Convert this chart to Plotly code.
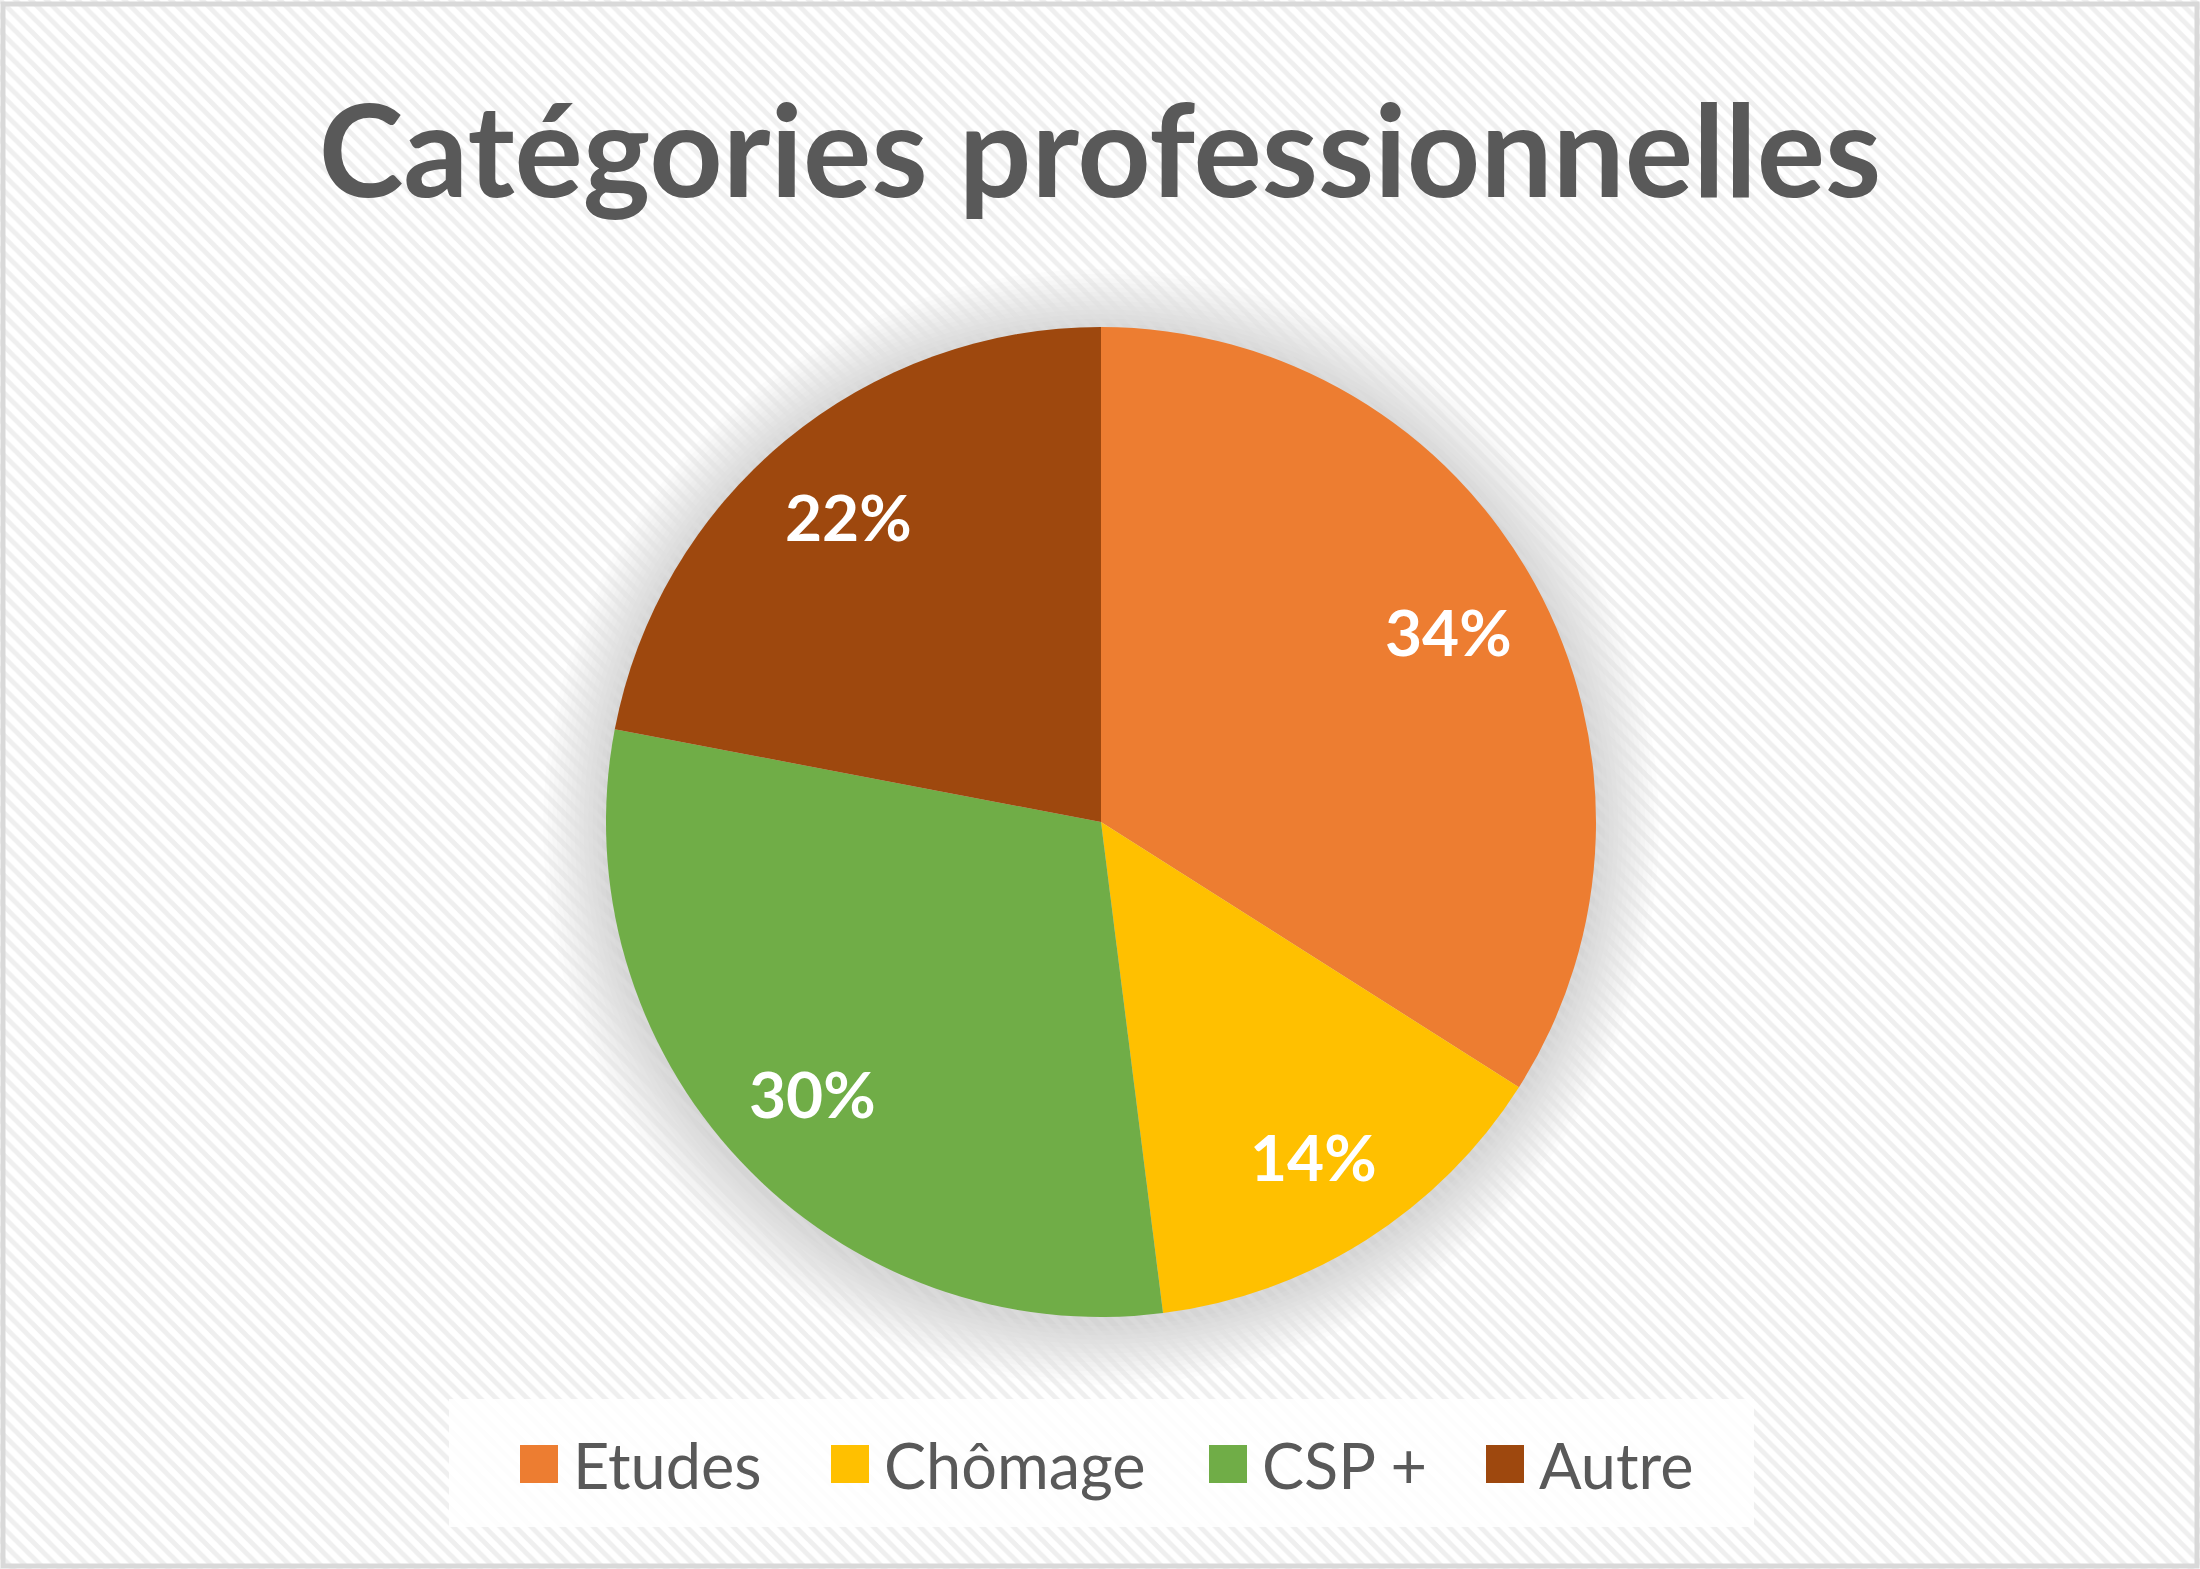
import math
import plotly.graph_objects as go

# ---- data ----
categories = ["Etudes", "Chômage", "CSP +", "Autre"]
values = [34, 14, 30, 22]
colors = ["#ED7D31", "#FFC000", "#70AD47", "#9E480E"]
title_text = "Catégories professionnelles"

# ---- layout constants (pixels) ----
W, H = 2200, 1569
CX, CY, R = 1101, 822, 495
FONT = "Lato"
TXT = "#595959"


def px(x):
    return x / W


def py(y):
    return 1 - y / H


fig = go.Figure()

# striped background via pattern fill on a hidden axis
fig.add_trace(go.Scatter(
    x=[0, 1, 1, 0, 0], y=[0, 0, 1, 1, 0], mode="none", fill="toself",
    fillcolor="rgba(0,0,0,0)",
    fillpattern=dict(shape="\\", size=11, solidity=0.45,
                     fgcolor="#dfdfdf", bgcolor="rgba(0,0,0,0)"),
    hoverinfo="skip", showlegend=False,
))

fig.add_trace(go.Pie(
    labels=categories, values=values, sort=False, direction="clockwise",
    rotation=0, marker=dict(colors=colors, line=dict(width=0)),
    textinfo="none", showlegend=False,
    domain=dict(x=[px(CX - R), px(CX + R)], y=[py(CY + R), py(CY - R)]),
))

shapes = []
# soft shadow behind pie
for k in range(1, 15):
    rr = R + k * 4.5
    oy = 5
    shapes.append(dict(type="circle", xref="paper", yref="paper", layer="below",
                       x0=px(CX - rr), x1=px(CX + rr),
                       y0=py(CY + oy + rr), y1=py(CY + oy - rr),
                       fillcolor="rgba(0,0,0,0.012)", line=dict(width=0)))

# outer border
shapes.append(dict(type="rect", xref="paper", yref="paper", layer="above",
                   x0=px(3), x1=px(W - 3), y0=py(H - 3), y1=py(4),
                   line=dict(color="#d9d9d9", width=5), fillcolor="rgba(0,0,0,0)"))

# legend box
shapes.append(dict(type="rect", xref="paper", yref="paper", layer="above",
                   x0=px(449), x1=px(1754), y0=py(1527), y1=py(1399),
                   fillcolor="rgba(255,255,255,0.85)", line=dict(width=0)))

annotations = []
legend_x = [520, 831, 1209, 1486]
SQ = 38
LY = 1464
for name, col, lx in zip(categories, colors, legend_x):
    shapes.append(dict(type="rect", xref="paper", yref="paper", layer="above",
                       x0=px(lx), x1=px(lx + SQ), y0=py(LY + SQ / 2), y1=py(LY - SQ / 2),
                       fillcolor=col, line=dict(width=0)))
    annotations.append(dict(xref="paper", yref="paper", x=px(lx + SQ + 13), y=py(LY),
                            xanchor="left", yanchor="middle", showarrow=False,
                            text=name, font=dict(family=FONT, size=63, color=TXT)))

# percentage labels placed from the data
total = sum(values)
cum = 0
for v in values:
    mid = (cum + v / 2) / total * 2 * math.pi
    cum += v
    lr = 0.8 * R
    x = CX + lr * math.sin(mid)
    y = CY - lr * math.cos(mid)
    annotations.append(dict(xref="paper", yref="paper", x=px(x), y=py(y),
                            xanchor="center", yanchor="middle", showarrow=False,
                            text=f"{round(v / total * 100)}%",
                            font=dict(family=FONT, size=64, color="white", weight="bold")))

fig.update_layout(
    width=W, height=H,
    margin=dict(l=0, r=0, t=0, b=0),
    paper_bgcolor="white", plot_bgcolor="rgba(0,0,0,0)",
    xaxis=dict(visible=False, range=[0, 1], domain=[0, 1], fixedrange=True),
    yaxis=dict(visible=False, range=[0, 1], domain=[0, 1], fixedrange=True),
    title=dict(text=title_text, x=0.5, xanchor="center", y=py(152), yanchor="middle",
               xref="paper", yref="container",
               font=dict(family=FONT, size=128, color=TXT, weight="bold")),
    shapes=shapes, annotations=annotations, showlegend=False,
)

fig.write_html("out.html", config={"displayModeBar": False},
               post_script="document.body.style.margin='0';")
